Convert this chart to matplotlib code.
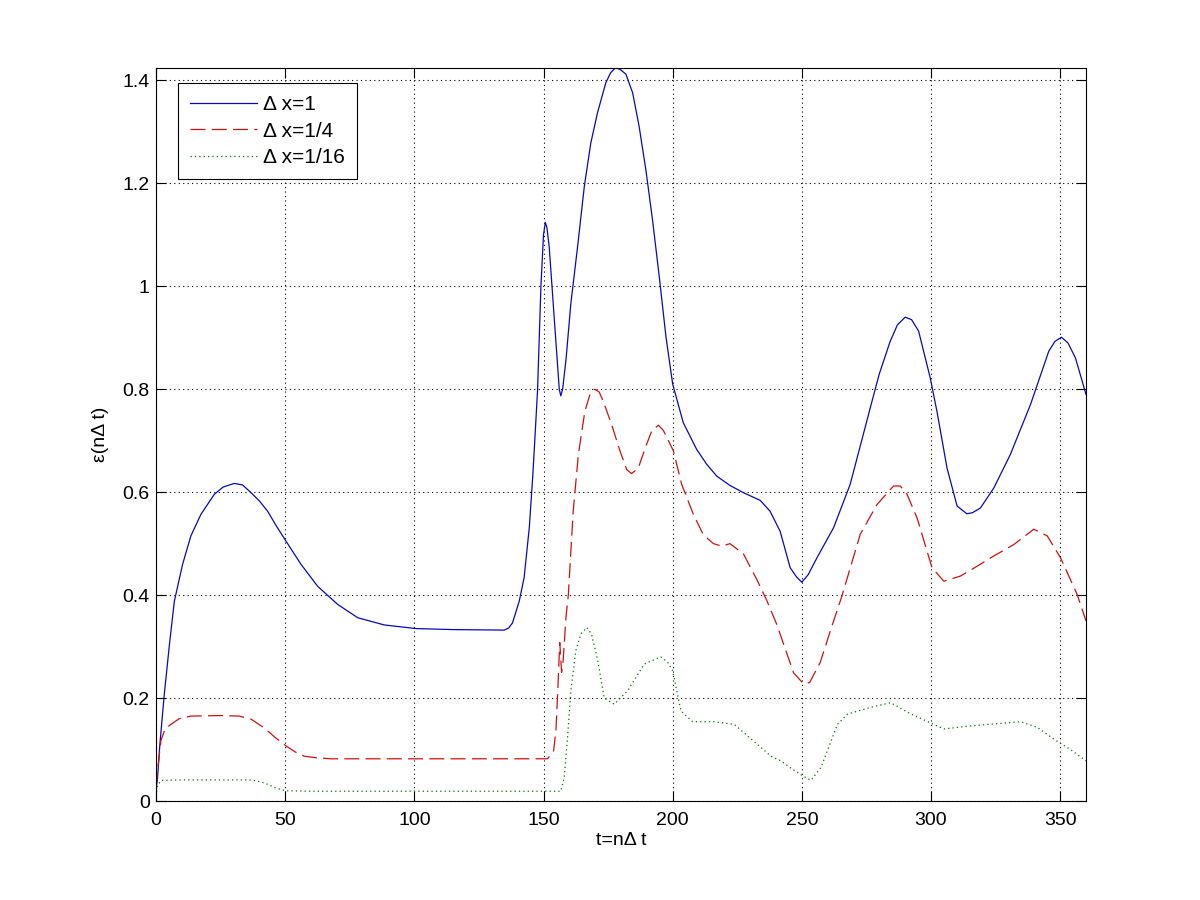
import matplotlib
matplotlib.use('Agg')
import matplotlib.pyplot as plt

plt.rcParams['font.family'] = ['Liberation Sans', 'DejaVu Sans']
plt.rcParams['font.size'] = 14

# error curves

t_dx1 = [0, 0.6, 1.5, 3.2, 5.2, 7.1, 10.3, 13.5, 17.4, 22.6,
         26, 30.3, 33.5, 36.8, 40, 43.2, 46.5, 50.3, 56.1, 62.6,
         70.3, 78.1, 88.4, 100.6, 115, 134.8, 136.5, 138, 140.6, 142.5,
         144.5, 145.8, 146.4, 147.7, 149, 150, 150.7, 151.3, 152.2, 154.2,
         156.1, 156.7, 157.4, 158.7, 160.6, 163.2, 165.8, 168.3, 170.9, 174.1,
         176, 178, 180, 181.9, 184.5, 187, 189.6, 192.2, 194.8, 197.4,
         200, 204.1, 209.3, 213.2, 217.1, 222.2, 227.4, 233.9, 237.7, 241.6,
         245.5, 248, 250, 252.5, 255.8, 262.3, 268.7, 276.5, 280, 284.2,
         287, 290, 292.5, 295.2, 299.7, 302.3, 306.2, 310.1, 313.9, 316,
         319.1, 324.3, 330.7, 338.5, 345.6, 348, 350.5, 353, 355.9, 360]
eps_dx1 = [0.02, 0.045, 0.11, 0.207, 0.304, 0.388, 0.46, 0.515, 0.557, 0.596,
           0.61, 0.617, 0.614, 0.599, 0.583, 0.563, 0.535, 0.505, 0.46, 0.417,
           0.382, 0.356, 0.342, 0.335, 0.333, 0.332, 0.336, 0.346, 0.388, 0.434,
           0.531, 0.628, 0.68, 0.798, 1.0, 1.10, 1.124, 1.115, 1.077, 0.935,
           0.80, 0.787, 0.80, 0.857, 0.967, 1.077, 1.194, 1.278, 1.337, 1.395,
           1.415, 1.425, 1.42, 1.412, 1.376, 1.311, 1.227, 1.129, 1.019, 0.902,
           0.81, 0.735, 0.683, 0.654, 0.631, 0.613, 0.599, 0.584, 0.563, 0.524,
           0.453, 0.435, 0.425, 0.44, 0.472, 0.531, 0.615, 0.764, 0.83, 0.893,
           0.925, 0.94, 0.935, 0.913, 0.822, 0.757, 0.647, 0.573, 0.558, 0.56,
           0.569, 0.608, 0.673, 0.77, 0.874, 0.893, 0.901, 0.89, 0.861, 0.79]

t_dx4 = [0, 0.6, 1.9, 3.5, 5.8, 9, 13.5, 25, 32.2, 36.8,
         41.9, 46, 50.3, 54, 57.4, 62, 67.7, 100, 151.5, 153.9,
         154.8, 155.4, 156.3, 157, 157.6, 158.7, 159.6, 161.5, 163.5, 166,
         168, 169.8, 171.5, 173.1, 176.4, 179.6, 182.2, 184.1, 186.7, 189.9,
         192, 194.5, 196.4, 200.3, 203.5, 208, 211.9, 215.8, 219, 222.2,
         227.4, 232.6, 236.4, 240.3, 246.8, 250.6, 253, 257.1, 261, 265.5,
         272.6, 279.1, 285.5, 288.1, 290.7, 294.6, 300.4, 305, 311.4, 317.8,
         324.3, 332, 339.8, 345, 350.2, 356.6, 360]
eps_dx4 = [0.026, 0.06, 0.117, 0.14, 0.149, 0.16, 0.165, 0.166, 0.165, 0.159,
           0.142, 0.124, 0.107, 0.095, 0.087, 0.084, 0.082, 0.082, 0.082, 0.097,
           0.136, 0.20, 0.308, 0.25, 0.272, 0.357, 0.40, 0.563, 0.673, 0.757,
           0.79, 0.80, 0.795, 0.777, 0.731, 0.68, 0.644, 0.636, 0.647, 0.693,
           0.72, 0.73, 0.72, 0.68, 0.615, 0.557, 0.517, 0.50, 0.495, 0.50,
           0.48, 0.43, 0.39, 0.343, 0.249, 0.228, 0.23, 0.269, 0.33, 0.398,
           0.518, 0.576, 0.612, 0.612, 0.596, 0.55, 0.453, 0.427, 0.437, 0.456,
           0.476, 0.498, 0.528, 0.515, 0.472, 0.401, 0.35]

t_dx16 = [0, 0.6, 2, 10, 35, 38, 42, 46, 50, 60,
          156.7, 158, 159.3, 160.6, 162.5, 164.5, 166.8, 168.6, 171, 173.5,
          177.4, 182.5, 189, 195.4, 198, 200, 203.2, 207.7, 216, 223.8,
          232.8, 238, 241.9, 246, 250.3, 253.5, 257.4, 263.8, 267.7, 276.7,
          284.4, 292.2, 305, 315.4, 334.7, 341.2, 347.6, 354, 360]
eps_dx16 = [0.01, 0.03, 0.04, 0.041, 0.041, 0.04, 0.035, 0.026, 0.02, 0.019,
            0.019, 0.045, 0.123, 0.214, 0.292, 0.325, 0.337, 0.324, 0.273, 0.20,
            0.188, 0.214, 0.266, 0.28, 0.27, 0.253, 0.175, 0.154, 0.154, 0.149,
            0.11, 0.087, 0.078, 0.063, 0.049, 0.04, 0.065, 0.149, 0.169, 0.182,
            0.191, 0.169, 0.14, 0.146, 0.154, 0.143, 0.12, 0.10, 0.078]

labels = ['\u0394 x=1', '\u0394 x=1/4', '\u0394 x=1/16']

x_ticks = [0, 50, 100, 150, 200, 250, 300, 350]
y_ticks = [0, 0.2, 0.4, 0.6, 0.8, 1.0, 1.2, 1.4]
y_tick_labels = ['0', '0.2', '0.4', '0.6', '0.8', '1', '1.2', '1.4']

fig = plt.figure(figsize=(12, 9), dpi=100)
ax = fig.add_axes([0.13, 0.11, 0.775, 0.815])

ax.plot(t_dx1, eps_dx1, color='#0808c0', linewidth=0.9, label=labels[0])
ax.plot(t_dx4, eps_dx4, color='#d01010', linewidth=0.9,
        linestyle=(0, (12, 5)), label=labels[1])
ax.plot(t_dx16, eps_dx16, color='#007000', linewidth=0.9,
        linestyle=(0, (1, 2.5)), label=labels[2])

ax.set_xlim(0, 360)
ax.set_ylim(0, 1.425)
ax.set_xticks(x_ticks)
ax.set_yticks(y_ticks)
ax.set_yticklabels(y_tick_labels)

ax.grid(True, color='k', linestyle=(0, (1, 3)), linewidth=0.8)
ax.tick_params(direction='in', length=7, width=0.8, top=True, right=True,
               labelsize=14)
ax.tick_params(axis='y', pad=4.5)
ax.tick_params(axis='x', pad=8)
for s in ax.spines.values():
    s.set_linewidth(0.8)

ax.set_xlabel('t=n\u0394 t', fontsize=14, labelpad=2)
ax.set_ylabel('\u03b5(n\u0394 t)', fontsize=14, labelpad=10)

leg = ax.legend(loc='upper left', bbox_to_anchor=(0.0233, 0.979),
                borderaxespad=0, fancybox=False, framealpha=1,
                edgecolor='k', handlelength=3.2, handletextpad=0.3,
                labelspacing=0.35, fontsize=15, borderpad=0.6)
leg.get_frame().set_linewidth(0.8)

fig.savefig('out.png', dpi=100)
